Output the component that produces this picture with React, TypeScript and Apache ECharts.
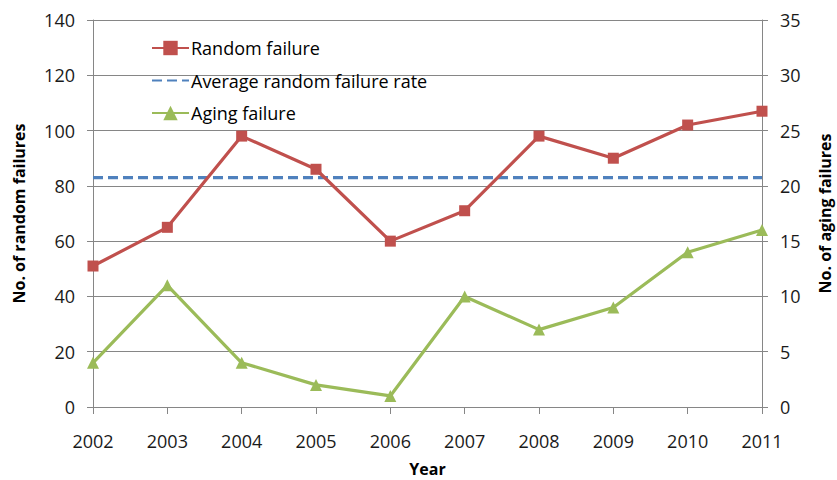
import React, { useEffect, useRef } from "react";
import * as echarts from "echarts";

const years = ["2002", "2003", "2004", "2005", "2006", "2007", "2008", "2009", "2010", "2011"];
const randomFailures = [51, 65, 98, 86, 60, 71, 98, 90, 102, 107];
const averageRandomRate = [83, 83, 83, 83, 83, 83, 83, 83, 83, 83];
const agingFailures = [4, 11, 4, 2, 1, 10, 7, 9, 14, 16];

const FONT = "Open Sans";

export default function App() {
  const ref = useRef<HTMLDivElement>(null);
  useEffect(() => {
    if (!ref.current) return;
    const chart = echarts.init(ref.current, undefined, { renderer: "svg" });
    const axisLine = { show: true, lineStyle: { color: "#868686", width: 1 } };
    const labelStyle = { color: "#1a1a1a", fontSize: 18, fontFamily: FONT };
    const nameStyle = { color: "#000", fontSize: 16, fontWeight: "bold", fontFamily: FONT, lineHeight: 18 };
    chart.setOption({
      animation: false,
      backgroundColor: "#fff",
      grid: { left: 93, right: 75, top: 20, bottom: 73, containLabel: false, outerBoundsMode: "none" },
      legend: {
        orient: "vertical",
        left: 146,
        top: 34,
        itemWidth: 37,
        itemHeight: 18,
        itemGap: 14.5,
        textStyle: { color: "#000", fontSize: 18, fontFamily: FONT, padding: [0, 0, 0, -3] },
        data: [
          { name: "Random failure" },
          { name: "Average random failure rate", itemStyle: { opacity: 0 } },
          { name: "Aging failure" },
        ],
      },
      xAxis: {
        type: "category",
        data: years,
        boundaryGap: false,
        name: "Year",
        nameLocation: "middle",
        nameGap: 53,
        nameTextStyle: nameStyle,
        axisLine,
        axisTick: { show: true, alignWithLabel: true, length: 7, lineStyle: { color: "#868686" } },
        axisLabel: { ...labelStyle, margin: 25 },
        splitLine: { show: false },
      },
      yAxis: [
        {
          type: "value",
          min: 0,
          max: 140,
          interval: 20,
          name: "No. of random failures",
          nameLocation: "middle",
          nameGap: 65,
          nameTextStyle: nameStyle,
          axisLine,
          axisTick: { show: true, length: 6, lineStyle: { color: "#868686" } },
          axisLabel: { ...labelStyle, margin: 18 },
          splitLine: { show: true, lineStyle: { color: "#868686", width: 1 } },
        },
        {
          type: "value",
          min: 0,
          max: 35,
          interval: 5,
          position: "right",
          name: "No. of aging failures",
          nameLocation: "middle",
          nameGap: 54,
          nameRotate: 90,
          nameTextStyle: nameStyle,
          axisLine,
          axisTick: { show: true, length: 6, lineStyle: { color: "#868686" } },
          axisLabel: { ...labelStyle, margin: 18 },
          splitLine: { show: false },
        },
      ],
      series: [
        {
          name: "Random failure",
          type: "line",
          data: randomFailures,
          yAxisIndex: 0,
          symbol: "rect",
          symbolSize: 11,
          itemStyle: { color: "#c0504d" },
          lineStyle: { color: "#c0504d", width: 3.2 },
          z: 3,
        },
        {
          name: "Average random failure rate",
          type: "line",
          data: averageRandomRate,
          yAxisIndex: 0,
          symbol: "none",
          itemStyle: { color: "#4f81bd" },
          lineStyle: { color: "#4f81bd", width: 3.2, type: [10, 5] },
          z: 2,
        },
        {
          name: "Aging failure",
          type: "line",
          data: agingFailures,
          yAxisIndex: 1,
          symbol: "triangle",
          symbolSize: 12,
          itemStyle: { color: "#9bbb59" },
          lineStyle: { color: "#9bbb59", width: 3.2 },
          z: 3,
        },
      ],
    });
    return () => chart.dispose();
  }, []);
  return (
    <div
      ref={ref}
      style={{ position: "fixed", left: 0, top: 0, width: 837, height: 480 }}
    />
  );
}
